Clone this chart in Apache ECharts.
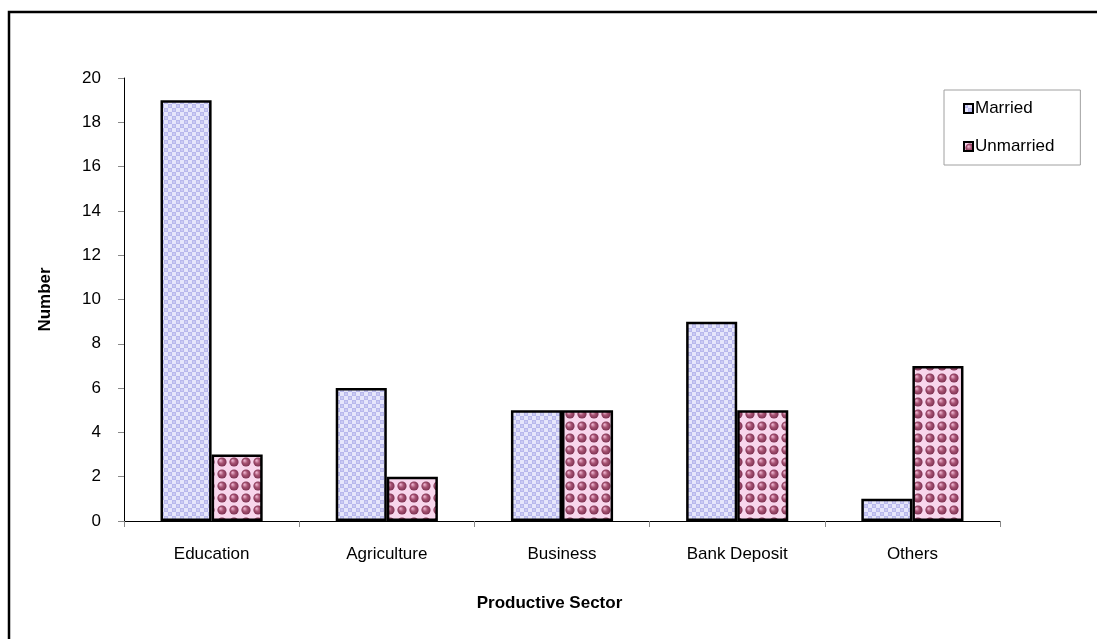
<!DOCTYPE html>
<html>
<head>
<meta charset="utf-8">
<script src="https://cdn.jsdelivr.net/npm/echarts@6/dist/echarts.min.js"></script>
<style>
  html, body { margin: 0; padding: 0; background: #fff; }
  #chart { width: 1097px; height: 639px; }
</style>
</head>
<body>
<div id="chart"></div>
<script>
// Savings invested by productive sector, split by marital status
const categories = ['Education', 'Agriculture', 'Business', 'Bank Deposit', 'Others'];
const married = [19, 6, 5, 9, 1];
const unmarried = [3, 2, 5, 5, 7];
const seriesNames = ['Married', 'Unmarried'];
const yTicks = { min: 0, max: 20, interval: 2 };

// Fine lavender checkerboard fill
function checkerPattern() {
  const c = document.createElement('canvas');
  c.width = 8; c.height = 8;
  const g = c.getContext('2d');
  g.fillStyle = '#e6e6fb';
  g.fillRect(0, 0, 8, 8);
  g.fillStyle = '#b8b8ec';
  g.fillRect(0, 0, 4, 4);
  g.fillRect(4, 4, 4, 4);
  g.fillStyle = '#cacaf3';
  g.fillRect(1, 1, 2, 2);
  g.fillRect(5, 5, 2, 2);
  return c;
}

// Maroon bead / bubble fill on a pink ground
function beadPattern() {
  const s = 12;
  const c = document.createElement('canvas');
  c.width = s; c.height = s;
  const g = c.getContext('2d');
  g.fillStyle = '#f8d6ec';
  g.fillRect(0, 0, s, s);
  const bead = (x, y, r) => {
    const grd = g.createRadialGradient(x - r * 0.35, y - r * 0.35, r * 0.1, x, y, r);
    grd.addColorStop(0, '#eab0cc');
    grd.addColorStop(0.45, '#a85474');
    grd.addColorStop(1, '#7c3050');
    g.fillStyle = grd;
    g.beginPath();
    g.arc(x, y, r, 0, Math.PI * 2);
    g.fill();
  };
  bead(6, 6, 4.6);
  return c;
}

const marriedFill = { image: checkerPattern(), repeat: 'repeat' };
const unmarriedFill = { image: beadPattern(), repeat: 'repeat' };

const chart = echarts.init(document.getElementById('chart'), null, { renderer: 'canvas' });

const font = 'Liberation Sans, Arial, sans-serif';

chart.setOption({
  animation: false,
  backgroundColor: '#ffffff',
  graphic: [{
    type: 'rect',
    shape: { x: 9, y: 12, width: 1200, height: 700 },
    style: { fill: 'none', stroke: '#000', lineWidth: 2.5 },
    silent: true,
    z: 100
  }],
  grid: { left: 124, top: 78, right: 97, bottom: 118, containLabel: false },
  legend: {
    orient: 'vertical',
    left: 944,
    top: 90,
    padding: [10, 26, 10, 19],
    itemGap: 21,
    itemWidth: 9,
    itemHeight: 9,
    icon: 'rect',
    borderColor: '#a0a0a0',
    borderWidth: 1,
    textStyle: { fontFamily: font, fontSize: 17, color: '#000', padding: [0, 0, 0, -3] },
    data: seriesNames
  },
  xAxis: {
    type: 'category',
    data: categories,
    name: 'Productive Sector',
    nameLocation: 'middle',
    nameGap: 74,
    nameTextStyle: { fontFamily: font, fontSize: 17, fontWeight: 'bold', color: '#000', padding: [0, 25, 0, 0] },
    axisLine: { lineStyle: { color: '#000', width: 1 } },
    axisTick: { show: true, length: 6, lineStyle: { color: '#888' } },
    axisLabel: { fontFamily: font, fontSize: 17, color: '#000', margin: 25 }
  },
  yAxis: {
    type: 'value',
    min: yTicks.min,
    max: yTicks.max,
    interval: yTicks.interval,
    name: 'Number',
    nameLocation: 'middle',
    nameGap: 70,
    nameRotate: 90,
    nameTextStyle: { fontFamily: font, fontSize: 17, fontWeight: 'bold', color: '#000' },
    splitLine: { show: false },
    axisLine: { show: true, lineStyle: { color: '#000', width: 1 } },
    axisTick: { show: true, length: 6, lineStyle: { color: '#888' } },
    axisLabel: { fontFamily: font, fontSize: 17, color: '#000', margin: 23 }
  },
  series: [
    {
      name: seriesNames[0],
      type: 'bar',
      data: married,
      barGap: '0%',
      barCategoryGap: '41.7%',
      itemStyle: { color: marriedFill, borderColor: '#000', borderWidth: 2.5 }
    },
    {
      name: seriesNames[1],
      type: 'bar',
      data: unmarried,
      itemStyle: { color: unmarriedFill, borderColor: '#000', borderWidth: 2.5 }
    }
  ]
});
</script>
</body>
</html>
